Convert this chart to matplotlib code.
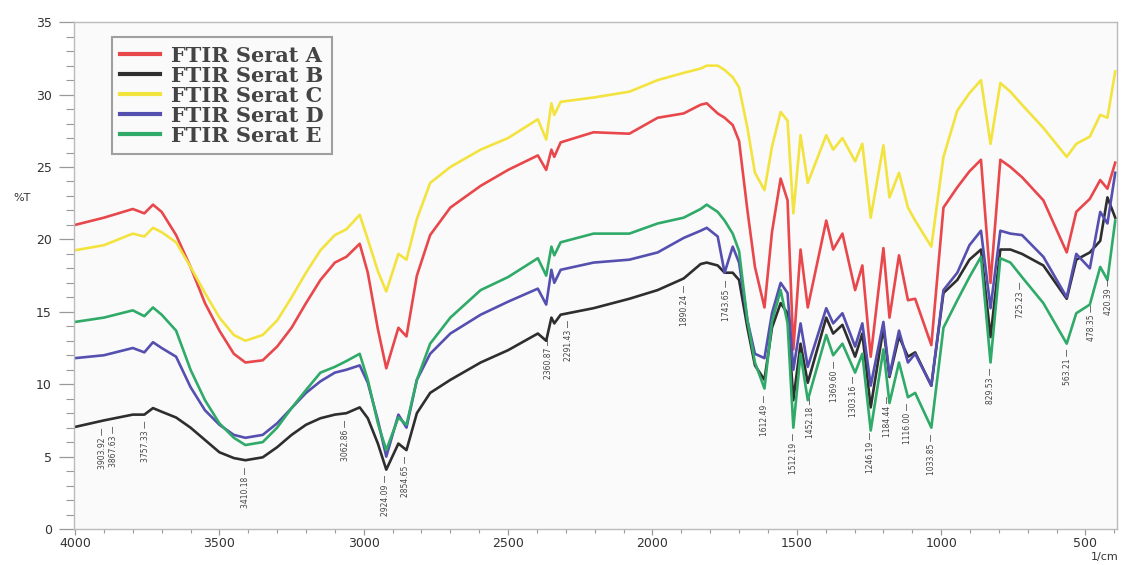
import numpy as np
import matplotlib
matplotlib.use("Agg")
import matplotlib.pyplot as plt
from matplotlib.ticker import MultipleLocator

# wavenumber grid (1/cm)
wn = [4000, 3900, 3800, 3760, 3730, 3700, 3650, 3600, 3550, 3500, 3450, 3410,
      3350, 3300, 3250, 3200, 3150, 3100, 3060, 3014, 2986, 2951, 2922, 2880,
      2852, 2816, 2770, 2700, 2595, 2500, 2397, 2368, 2350, 2340, 2318, 2204,
      2080, 1982, 1892, 1833, 1812, 1774, 1750, 1722, 1700, 1671, 1645, 1612,
      1586, 1556, 1532, 1512, 1487, 1462, 1398, 1374, 1342, 1298, 1273, 1244,
      1200, 1179, 1146, 1115, 1090, 1034, 992, 944, 902, 862, 829, 795, 760,
      720, 646, 565, 532, 485, 449, 424, 397]

serat_a = [21.0, 21.5, 22.1, 21.8, 22.4, 21.9, 20.3, 18.1, 15.6, 13.7, 12.1, 11.5,
           11.65, 12.6, 13.9, 15.6, 17.2, 18.4, 18.8, 19.7, 17.7, 13.8, 11.1, 13.9,
           13.3, 17.5, 20.3, 22.2, 23.7, 24.8, 25.8, 24.8, 26.2, 25.7, 26.7, 27.4,
           27.3, 28.4, 28.7, 29.3, 29.4, 28.7, 28.4, 27.9, 26.8, 22.0, 18.1, 15.3,
           20.5, 24.2, 22.7, 12.4, 19.3, 15.3, 21.3, 19.3, 20.4, 16.5, 18.2, 11.9,
           19.4, 14.6, 18.9, 15.8, 15.9, 12.7, 22.2, 23.6, 24.7, 25.5, 17.0, 25.5, 25.0,
           24.3, 22.7, 19.1, 21.9, 22.8, 24.1, 23.5, 25.3]

serat_b = [7.05, 7.5, 7.9, 7.9, 8.35, 8.1, 7.7, 7.0, 6.15, 5.3, 4.9, 4.75,
           4.95, 5.65, 6.5, 7.2, 7.65, 7.9, 8.0, 8.4, 7.65, 5.9, 4.1, 5.9,
           5.45, 8.0, 9.4, 10.3, 11.5, 12.35, 13.5, 13.0, 14.6, 14.2, 14.8, 15.25,
           15.9, 16.5, 17.3, 18.3, 18.4, 18.2, 17.7, 17.7, 17.2, 13.9, 11.3, 10.3,
           13.9, 15.6, 14.9, 8.9, 12.8, 10.1, 14.6, 13.5, 14.1, 11.9, 13.5, 8.4,
           13.9, 10.5, 13.3, 11.9, 12.2, 9.9, 16.3, 17.2, 18.6, 19.3, 13.25, 19.3, 19.3,
           19.0, 18.2, 15.9, 18.6, 19.1, 19.9, 22.9, 21.5]

serat_c = [19.25, 19.6, 20.4, 20.2, 20.8, 20.5, 19.8, 18.1, 16.3, 14.6, 13.4, 13.0,
           13.4, 14.4, 16.0, 17.7, 19.25, 20.3, 20.7, 21.7, 20.0, 17.8, 16.4, 19.0,
           18.6, 21.4, 23.9, 25.0, 26.2, 27.0, 28.3, 26.9, 29.4, 28.6, 29.5, 29.8,
           30.2, 31.0, 31.5, 31.8, 32.0, 32.0, 31.7, 31.2, 30.5, 27.7, 24.6, 23.4,
           26.4, 28.8, 28.2, 21.8, 27.2, 23.9, 27.2, 26.2, 27.0, 25.4, 26.6, 21.5,
           26.5, 22.9, 24.6, 22.2, 21.3, 19.5, 25.7, 28.9, 30.1, 31.0, 26.6, 30.8, 30.2,
           29.3, 27.7, 25.7, 26.6, 27.1, 28.6, 28.4, 31.6]

serat_d = [11.8, 12.0, 12.5, 12.2, 12.9, 12.5, 11.9, 9.8, 8.2, 7.2, 6.5, 6.3,
           6.5, 7.3, 8.35, 9.4, 10.2, 10.8, 11.0, 11.3, 10.1, 7.5, 5.0, 7.9,
           7.0, 10.3, 12.1, 13.5, 14.8, 15.7, 16.6, 15.5, 17.9, 17.0, 17.9, 18.4,
           18.6, 19.1, 20.1, 20.6, 20.8, 20.2, 17.7, 19.5, 18.4, 14.4, 12.1, 11.8,
           14.9, 17.0, 16.3, 11.0, 14.2, 11.2, 15.25, 14.2, 14.9, 12.6, 14.2, 9.9,
           14.3, 10.6, 13.7, 11.5, 12.1, 9.9, 16.5, 17.7, 19.6, 20.6, 15.25, 20.6, 20.4,
           20.3, 18.8, 16.0, 19.0, 18.0, 21.9, 21.1, 24.6]

serat_e = [14.3, 14.6, 15.1, 14.7, 15.3, 14.8, 13.7, 11.0, 8.9, 7.3, 6.3, 5.8,
           6.0, 7.0, 8.35, 9.6, 10.8, 11.2, 11.6, 12.1, 10.3, 7.3, 5.45, 7.7,
           7.2, 10.3, 12.8, 14.6, 16.5, 17.4, 18.7, 17.5, 19.5, 18.9, 19.8, 20.4,
           20.4, 21.1, 21.5, 22.1, 22.4, 21.9, 21.3, 20.4, 19.2, 14.4, 11.5, 9.7,
           14.3, 16.5, 14.2, 7.0, 12.1, 8.9, 13.4, 12.0, 12.8, 10.8, 12.1, 6.8,
           12.4, 8.7, 11.5, 9.1, 9.4, 7.0, 13.9, 15.8, 17.4, 18.8, 11.5, 18.7, 18.4,
           17.4, 15.6, 12.8, 14.9, 15.5, 18.1, 17.2, 21.3]

labels = ["FTIR Serat A", "FTIR Serat B", "FTIR Serat C", "FTIR Serat D", "FTIR Serat E"]
colors = ["#e8474c", "#2e2e2e", "#f3e33f", "#5550b0", "#2faa68"]

# peak picks printed under the lowest trace
peaks = [3903.92, 3867.63, 3757.33, 3410.18, 3062.86, 2924.09, 2854.65, 2360.87,
         2291.43, 1890.24, 1743.65, 1612.49, 1512.19, 1452.18, 1369.60, 1303.16,
         1246.19, 1184.44, 1116.00, 1033.85, 829.53, 725.23, 563.21, 478.35, 420.39]

fig = plt.figure(figsize=(11.24, 5.65), dpi=100)
ax = fig.add_axes([0.066, 0.0637, 0.928, 0.897])
ax.set_facecolor("#fafafa")

all_series = [serat_a, serat_b, serat_c, serat_d, serat_e]
for vals, lab, col in zip(all_series, labels, colors):
    ax.plot(wn, vals, color=col, lw=1.9, label=lab, solid_joinstyle="round")

# peak labels
x_inc = np.array(wn[::-1], dtype=float)
for p in peaks:
    low = min(np.interp(p, x_inc, np.array(s[::-1])) for s in all_series)
    ax.text(p, low - 0.45, f"{p:.2f} \u2014", rotation=90, ha="center", va="top",
            fontsize=5.5, color="#444444")

ax.set_xlim(4003, 390)
ax.set_ylim(0, 35)
ax.xaxis.set_major_locator(MultipleLocator(500))
ax.xaxis.set_minor_locator(MultipleLocator(100))
ax.yaxis.set_major_locator(MultipleLocator(5))
ax.yaxis.set_minor_locator(MultipleLocator(1))
ax.tick_params(axis="y", which="major", length=11, width=0.9, color="#999999",
               labelsize=9, labelcolor="#333333", pad=5)
ax.tick_params(axis="y", which="minor", length=6, width=0.8, color="#999999")
ax.tick_params(axis="x", which="major", length=4, width=0.9, color="#999999",
               labelsize=9, labelcolor="#333333", pad=2)
ax.tick_params(axis="x", which="minor", length=3, width=0.8, color="#999999")
for sp in ax.spines.values():
    sp.set_color("#bbbbbb")
    sp.set_linewidth(1.0)

fig.text(0.012, 0.645, "%T", fontsize=8, color="#333333")
fig.text(0.995, 0.008, "1/cm", fontsize=8, color="#333333", ha="right")

leg = ax.legend(loc="upper left", bbox_to_anchor=(0.036, 0.970), frameon=True,
                fancybox=False, handlelength=1.9, handletextpad=0.55,
                labelspacing=0.0, borderpad=0.4, borderaxespad=0,
                prop={"family": "DejaVu Serif", "weight": "bold", "size": 15})
leg.get_frame().set_edgecolor("#888888")
leg.get_frame().set_linewidth(1.5)
leg.get_frame().set_facecolor("#fafafa")
for t in leg.get_texts():
    t.set_color("#444444")
for h in leg.get_lines():
    h.set_linewidth(3)

plt.savefig("out.png", dpi=100)
